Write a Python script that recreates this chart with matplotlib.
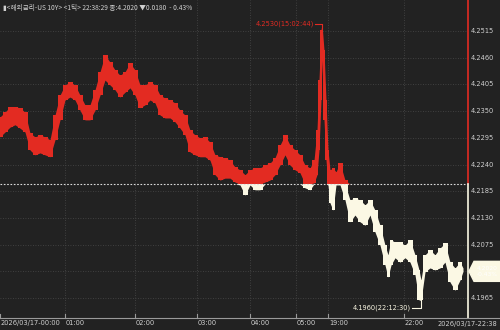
import numpy as np
import matplotlib
matplotlib.use("Agg")
import matplotlib.pyplot as plt
from matplotlib.patches import Polygon

plt.rcParams['font.family'] = ['Noto Sans CJK KR', 'DejaVu Sans']

# ---- data (tick index, high, low) ----
tick_n = [0, 5, 10, 15, 20, 25, 30, 35, 40, 45, 50, 55, 60, 65, 70, 75, 80, 85, 90, 95,
          100, 105, 110, 115, 120, 125, 130, 135, 140, 145, 150, 155, 160, 165, 170, 175,
          180, 185, 190, 195, 200, 205, 210, 215, 220, 225, 230, 235, 240, 245, 250, 255,
          260, 265, 270, 275, 280, 285, 290, 295, 300, 305, 310, 314, 317, 319, 321, 322,
          324, 326, 328, 330, 333, 336, 340, 345, 350, 355, 360, 365, 370, 375, 380, 385,
          388, 391, 395, 400, 405, 410, 415, 419, 421, 425, 430, 435, 440, 445, 450, 455,
          460, 463]
high = [4.2338, 4.2348, 4.2359, 4.2359, 4.2357, 4.2348, 4.2305, 4.2297, 4.2301, 4.2297,
        4.2291, 4.2342, 4.2383, 4.2404, 4.2410, 4.2404, 4.2383, 4.2363, 4.2363, 4.2394,
        4.2431, 4.2466, 4.2451, 4.2435, 4.2424, 4.2431, 4.2449, 4.2435, 4.2404, 4.2404,
        4.2410, 4.2404, 4.2383, 4.2377, 4.2373, 4.2367, 4.2352, 4.2342, 4.2311, 4.2301,
        4.2295, 4.2297, 4.2286, 4.2260, 4.2256, 4.2254, 4.2249, 4.2235, 4.2229, 4.2219,
        4.2229, 4.2233, 4.2233, 4.2239, 4.2243, 4.2254, 4.2280, 4.2301, 4.2280, 4.2270,
        4.2260, 4.2239, 4.2233, 4.2249, 4.2311, 4.2414, 4.2517, 4.2530, 4.2476, 4.2373,
        4.2270, 4.2229, 4.2233, 4.2225, 4.2243, 4.2208, 4.2167, 4.2171, 4.2167, 4.2157,
        4.2167, 4.2146, 4.2115, 4.2074, 4.2054, 4.2085, 4.2080, 4.2080, 4.2074, 4.2085,
        4.2054, 4.2023, 4.2002, 4.2054, 4.2064, 4.2054, 4.2068, 4.2078, 4.2039, 4.2027,
        4.2039, 4.2027]
low = [4.2297, 4.2307, 4.2317, 4.2322, 4.2315, 4.2307, 4.2270, 4.2260, 4.2264, 4.2260,
       4.2256, 4.2291, 4.2332, 4.2373, 4.2379, 4.2373, 4.2352, 4.2332, 4.2332, 4.2352,
       4.2383, 4.2414, 4.2404, 4.2394, 4.2379, 4.2389, 4.2398, 4.2383, 4.2357, 4.2363,
       4.2373, 4.2367, 4.2342, 4.2336, 4.2336, 4.2328, 4.2315, 4.2301, 4.2266, 4.2260,
       4.2256, 4.2256, 4.2249, 4.2219, 4.2208, 4.2212, 4.2212, 4.2204, 4.2198, 4.2177,
       4.2198, 4.2188, 4.2188, 4.2204, 4.2208, 4.2219, 4.2239, 4.2260, 4.2239, 4.2229,
       4.2223, 4.2192, 4.2188, 4.2202, 4.2219, 4.2270, 4.2373, 4.2455, 4.2332, 4.2249,
       4.2198, 4.2161, 4.2146, 4.2198, 4.2198, 4.2167, 4.2122, 4.2136, 4.2122, 4.2115,
       4.2136, 4.2101, 4.2074, 4.2033, 4.2008, 4.2033, 4.2048, 4.2039, 4.2048, 4.2039,
       4.2013, 4.1961, 4.1960, 4.2019, 4.2027, 4.2023, 4.2027, 4.2039, 4.1998, 4.1981,
       4.2002, 4.2020]

prev_close = 4.2200
last_price = 4.2020
y_ticks = [4.2515, 4.2460, 4.2405, 4.2350, 4.2295, 4.2240, 4.2185, 4.2130, 4.2075, 4.1965]
x_tick_pos = [0, 65, 135, 197, 250, 296, 328, 404]
x_tick_lab = ["2026/03/17-00:00", "01:00", "02:00", "03:00", "04:00", "05:00", "19:00", "22:00"]
end_label = "2026/03/17-22:38"
hi_label = "4.2530(15:02:44)"
lo_label = "4.1960(22:12:30)"
header = "▮<해외금리-US 10Y> <1틱> 22:38:29 종:4.2020 ▼0.0180  - 0.43%"

BG = '#222222'
RED = '#e32b22'
WHITE = '#fbf8e4'
GRID = '#4a4a4a'
TXT = '#d0d0d0'
FS = 4.8

W, H = 500, 330
fig = plt.figure(figsize=(5, 3.3), dpi=100, facecolor=BG)
ax = fig.add_axes([0, 12 / H, 468 / W, 318 / H])
ax.set_facecolor(BG)
YMIN, YMAX = 4.19239, 4.2579
ax.set_xlim(0, 468)
ax.set_ylim(YMIN, YMAX)
for s in ax.spines.values():
    s.set_visible(False)
ax.set_xticks([])
ax.set_yticks([])

# grid
for yv in y_ticks + [4.2020]:
    ax.axhline(yv, color=GRID, lw=0.6, ls=(0, (1, 2)), zorder=0)
for xv in x_tick_pos[1:]:
    ax.axvline(xv, color=GRID, lw=0.6, ls=(0, (1, 2)), zorder=0)

x = np.array(tick_n, float)
hi = np.array(high)
lo = np.array(low)
pc = prev_close
for st in (None, 'mid'):
    ax.fill_between(x, np.maximum(lo, pc), np.maximum(hi, pc), step=st, color=RED, lw=0, zorder=2)
    ax.fill_between(x, np.minimum(lo, pc), np.minimum(hi, pc), step=st, color=WHITE, lw=0, zorder=2)
# previous close
ax.axhline(pc, color='#dddddd', lw=0.8, ls=(0, (1.5, 1.5)), zorder=3)

# right edge line
ax.plot([468, 468], [pc, YMAX], color=RED, lw=1.2, clip_on=False, zorder=4)
ax.plot([468, 468], [YMIN, pc], color=WHITE, lw=1.2, clip_on=False, zorder=4)

# max/min annotations
imax = int(np.argmax(hi))
imin = int(np.argmin(lo))
xm, ym = x[imax], hi[imax]
ax.plot([xm - 7, xm, xm], [ym, ym, ym - 0.0012], color=RED, lw=0.8, zorder=4)
ax.text(xm - 8, ym, hi_label, color=RED, fontsize=FS, ha='right', va='center',
        family=['DejaVu Sans'])
xn, yn = x[imin], lo[imin]
ax.plot([xn - 9, xn, xn], [yn - 0.0015, yn - 0.0015, yn], color=WHITE, lw=0.8, zorder=4)
ax.text(xn - 10, yn - 0.0015, lo_label, color=WHITE, fontsize=FS, ha='right', va='center',
        family=['DejaVu Sans'])

# y labels
for yv in y_ticks:
    ax.text(471, yv, f"{yv:.4f}", color=TXT, fontsize=FS, ha='left', va='center',
            clip_on=False, family=['DejaVu Sans'])

# last price box
ypx = ax.transData.transform((0, last_price))[1]
poly = Polygon([(469, ypx), (474, ypx + 10), (500, ypx + 10), (500, ypx - 10), (474, ypx - 10)],
               closed=True, transform=None, fc=WHITE, ec=WHITE, zorder=6)
fig.add_artist(poly)
fig.text(487 / W, ypx / H, f"{last_price:.4f}\n-0.43%", color='#ffffff', fontsize=4.3,
         ha='center', va='center', family=['DejaVu Sans'], zorder=7)

# x axis
fig.add_artist(plt.Line2D([0, 1], [12 / H, 12 / H], transform=fig.transFigure,
                          color='#9a9a9a', lw=0.8))
for xv, lab in zip(x_tick_pos, x_tick_lab):
    ax.plot([xv, xv], [YMIN, YMIN + 0.0008], color='#9a9a9a', lw=0.8, clip_on=False)
    ax.text(xv + 1, YMIN - 0.0004, lab, color=TXT, fontsize=FS, ha='left', va='top',
            clip_on=False, family=['DejaVu Sans'])
fig.text(497 / W, 1 - 324 / H, end_label, color=TXT, fontsize=FS, ha='right', va='center',
         family=['DejaVu Sans'])

# header
fig.text(3 / W, 1 - 8 / H, header, color=TXT, fontsize=FS, ha='left', va='center')

fig.savefig("out.png", dpi=100, facecolor=BG)
